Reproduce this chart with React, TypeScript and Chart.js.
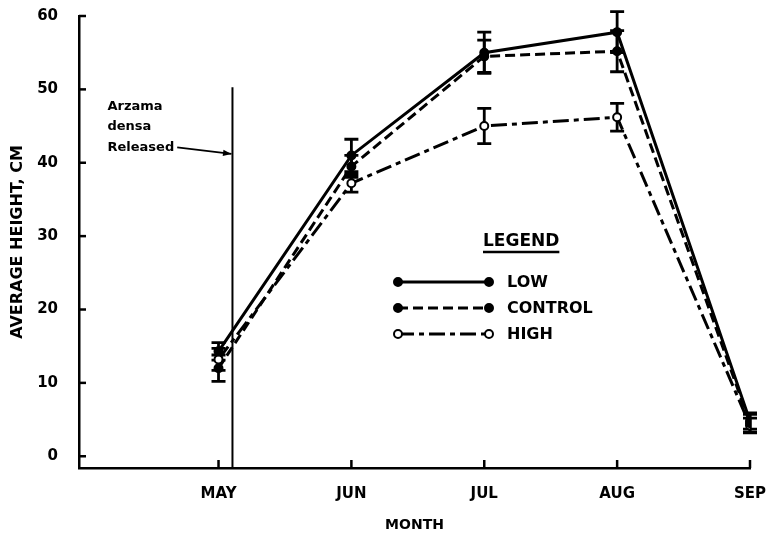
import { useEffect, useRef } from 'react';
import { Chart, registerables } from 'chart.js';

Chart.register(...registerables);

const months = ['MAY', 'JUN', 'JUL', 'AUG', 'SEP'];
const monthPositions = [5, 6, 7, 8, 9];
const lowValues = [14.3, 41, 55, 57.8, 4.8];
const lowErrors = [1.2, 2.2, 2.8, 2.8, 1.1];
const controlValues = [12, 39.5, 54.5, 55.2, 4.5];
const controlErrors = [1.8, 1.5, 2.2, 2.8, 1.2];
const highValues = [13.2, 37.2, 45, 46.2, 4.2];
const highErrors = [1.5, 1.2, 2.4, 1.9, 1.0];
const yTicks = [0, 10, 20, 30, 40, 50, 60];
const releaseMonth = 5.105;
const releaseLineTop = 50.3;
const annotationLines = ['Arzama', 'densa', 'Released'];
const annotationValues = [47.7, 44.9, 42.1];
const arrowTipValue = 41.2;

const FONT = "'DejaVu Sans', 'Liberation Sans', Arial, sans-serif";

const seriesStyles = [
  { label: 'LOW', dash: [] as number[], fill: '#000' },
  { label: 'CONTROL', dash: [10, 5], fill: '#000' },
  { label: 'HIGH', dash: [16, 5, 5, 5], fill: '#fff' },
];

const errorBarPlugin = {
  id: 'errorBars',
  beforeDatasetsDraw(chart: any) {
    const { ctx } = chart;
    const xs = chart.scales.x;
    const ys = chart.scales.y;
    ctx.save();
    ctx.strokeStyle = '#000';
    ctx.lineWidth = 2.8;
    ctx.setLineDash([]);
    chart.data.datasets.forEach((ds: any) => {
      ds.data.forEach((p: any, i: number) => {
        const e = ds.errors[i];
        const px = xs.getPixelForValue(p.x);
        const top = ys.getPixelForValue(p.y + e);
        const bot = ys.getPixelForValue(p.y - e);
        ctx.beginPath();
        ctx.moveTo(px, top);
        ctx.lineTo(px, bot);
        ctx.moveTo(px - 7, top);
        ctx.lineTo(px + 7, top);
        ctx.moveTo(px - 7, bot);
        ctx.lineTo(px + 7, bot);
        ctx.stroke();
      });
    });
    ctx.restore();
  },
};

const decorPlugin = {
  id: 'decor',
  afterDraw(chart: any) {
    const { ctx, chartArea } = chart;
    const xs = chart.scales.x;
    const ys = chart.scales.y;
    ctx.save();
    ctx.strokeStyle = '#000';
    ctx.fillStyle = '#000';
    ctx.lineWidth = 2.5;
    ctx.setLineDash([]);
    // inner tick marks
    yTicks.forEach((v) => {
      const py = ys.getPixelForValue(v);
      ctx.beginPath();
      ctx.moveTo(chartArea.left, py);
      ctx.lineTo(chartArea.left + 7, py);
      ctx.stroke();
    });
    monthPositions.forEach((m) => {
      const px = xs.getPixelForValue(m);
      ctx.beginPath();
      ctx.moveTo(px, chartArea.bottom);
      ctx.lineTo(px, chartArea.bottom - 8);
      ctx.stroke();
    });
    // release line
    const lx = xs.getPixelForValue(releaseMonth);
    ctx.lineWidth = 2;
    ctx.beginPath();
    ctx.moveTo(lx, ys.getPixelForValue(releaseLineTop));
    ctx.lineTo(lx, chartArea.bottom);
    ctx.stroke();
    // annotation text
    ctx.font = `bold 13px ${FONT}`;
    ctx.textBaseline = 'middle';
    ctx.textAlign = 'left';
    annotationLines.forEach((t, i) => {
      ctx.fillText(t, lx - 125, ys.getPixelForValue(annotationValues[i]));
    });
    const relW = ctx.measureText(annotationLines[2]).width;
    const ax0 = lx - 125 + relW + 3;
    const ay0 = ys.getPixelForValue(annotationValues[2]);
    const ay1 = ys.getPixelForValue(arrowTipValue);
    ctx.lineWidth = 1.8;
    ctx.beginPath();
    ctx.moveTo(ax0, ay0);
    ctx.lineTo(lx - 1, ay1);
    ctx.stroke();
    const ang = Math.atan2(ay1 - ay0, lx - 1 - ax0);
    ctx.beginPath();
    ctx.moveTo(lx - 1, ay1);
    ctx.lineTo(lx - 1 - 9 * Math.cos(ang - 0.35), ay1 - 9 * Math.sin(ang - 0.35));
    ctx.lineTo(lx - 1 - 9 * Math.cos(ang + 0.35), ay1 - 9 * Math.sin(ang + 0.35));
    ctx.closePath();
    ctx.fill();
    // legend
    ctx.font = `bold 17px ${FONT}`;
    ctx.textAlign = 'left';
    const lgX = 483;
    const lgY = 242;
    ctx.fillText('LEGEND', lgX, lgY);
    const lgW = ctx.measureText('LEGEND').width;
    ctx.lineWidth = 2.5;
    ctx.beginPath();
    ctx.moveTo(lgX, lgY + 10);
    ctx.lineTo(lgX + lgW, lgY + 10);
    ctx.stroke();
    ctx.font = `bold 16px ${FONT}`;
    seriesStyles.forEach((s, i) => {
      const ry = 282 + i * 26;
      ctx.lineWidth = 3;
      ctx.setLineDash(s.dash);
      ctx.beginPath();
      ctx.moveTo(398, ry);
      ctx.lineTo(489, ry);
      ctx.stroke();
      ctx.setLineDash([]);
      [398, 489].forEach((cx) => {
        ctx.beginPath();
        ctx.arc(cx, ry, 4, 0, Math.PI * 2);
        ctx.fillStyle = s.fill;
        ctx.fill();
        ctx.lineWidth = 2;
        ctx.stroke();
      });
      ctx.fillStyle = '#000';
      ctx.fillText(s.label, 507, ry + 1);
    });
    ctx.restore();
  },
};

function makeData(values: number[]) {
  return values.map((v, i) => ({ x: monthPositions[i], y: v }));
}

export default function App() {
  const ref = useRef<HTMLCanvasElement>(null);
  useEffect(() => {
    if (!ref.current) return;
    const valuesList = [lowValues, controlValues, highValues];
    const errorsList = [lowErrors, controlErrors, highErrors];
    const chart = new Chart(ref.current, {
      type: 'line',
      data: {
        datasets: seriesStyles.map((s, i) => ({
          label: s.label,
          data: makeData(valuesList[i]),
          errors: errorsList[i],
          borderColor: '#000',
          borderWidth: 3,
          borderDash: s.dash,
          pointRadius: 4,
          pointBorderWidth: 2,
          pointBackgroundColor: s.fill,
          pointBorderColor: '#000',
          tension: 0,
          fill: false,
        })) as any,
      },
      options: {
        responsive: false,
        animation: false,
        layout: { padding: { top: 16, right: 16, left: 0, bottom: 0 } },
        plugins: { legend: { display: false }, tooltip: { enabled: false } },
        scales: {
          x: {
            type: 'linear',
            min: 3.95,
            max: 9,
            grid: { display: false },
            border: { display: true, color: '#000', width: 2.5 },
            afterBuildTicks: (s: any) => {
              s.ticks = monthPositions.map((v) => ({ value: v }));
            },
            afterFit: (s: any) => {
              s.height = 72;
              s.paddingLeft = 0;
              s.paddingRight = 0;
            },
            ticks: {
              padding: 9,
              color: '#000',
              maxRotation: 0,
              font: { family: FONT, weight: 'bold', size: 15 },
              callback: (v: any) => months[monthPositions.indexOf(Number(v))] ?? '',
            },
            title: {
              display: true,
              text: 'MONTH',
              color: '#000',
              font: { family: FONT, weight: 'bold', size: 14 },
              padding: { top: 0, bottom: 6 },
            },
          },
          y: {
            type: 'linear',
            min: -1.6,
            max: 60,
            grid: { display: false },
            border: { display: true, color: '#000', width: 2.5 },
            afterBuildTicks: (s: any) => {
              s.ticks = yTicks.map((v) => ({ value: v }));
            },
            afterFit: (s: any) => {
              s.width = 79;
              s.paddingTop = 0;
              s.paddingBottom = 0;
            },
            ticks: {
              padding: 13,
              color: '#000',
              font: { family: FONT, weight: 'bold', size: 15 },
            },
            title: {
              display: true,
              text: 'AVERAGE HEIGHT, CM',
              color: '#000',
              font: { family: FONT, weight: 'bold', size: 16 },
              padding: { top: 8, bottom: 0 },
            },
          },
        },
      },
      plugins: [errorBarPlugin, decorPlugin],
    });
    return () => chart.destroy();
  }, []);
  return (
    <div style={{ position: 'absolute', left: 0, top: 0, width: 766, height: 540, background: '#fff' }}>
      <canvas ref={ref} width={766} height={540} style={{ display: 'block' }} />
    </div>
  );
}
